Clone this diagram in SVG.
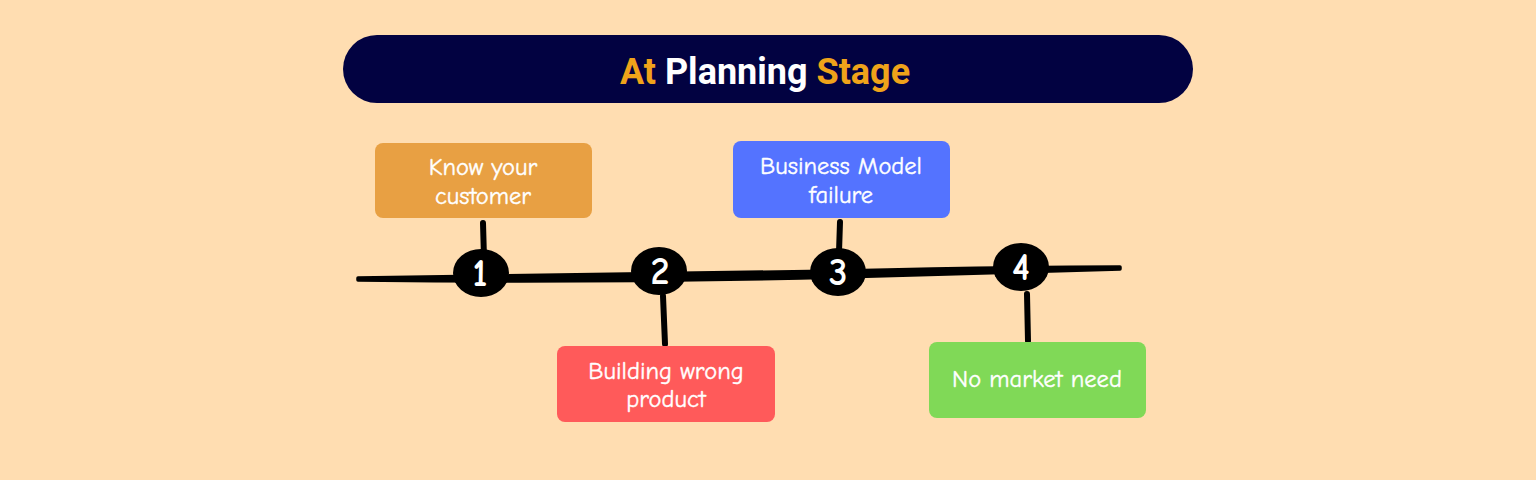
<svg xmlns="http://www.w3.org/2000/svg" width="1536" height="480" viewBox="0 0 1536 480">
<style>
.lbl{font-family:"Comic Sans MS","Comic Neue","Noto Sans",sans-serif;font-size:24.5px;font-weight:400;fill:#ffffff;stroke:#ffffff;stroke-width:0.4;text-anchor:middle}
.num{font-family:"Comic Sans MS","Comic Neue","Noto Sans",sans-serif;font-size:38px;font-weight:700;fill:#ffffff;text-anchor:middle}
.stem{stroke:#000;stroke-width:6;stroke-linecap:round;fill:none}
.title{font-family:Roboto,"Liberation Sans",sans-serif;font-size:36px;font-weight:700;text-anchor:middle}
</style>
<rect width="1536" height="480" fill="#FFDDB1"/>
<g id="title">
<rect x="343" y="35" width="850" height="68" rx="34" fill="#020241"/>
<text class="title" x="765" y="84"><tspan fill="#EFA31A">At</tspan><tspan fill="#ffffff"> Planning</tspan><tspan fill="#EFA31A"> Stage</tspan></text>
</g>
<g id="connectors">
<path d="M358 278 Q600 275 840 271 Q1000 267 1120 267 L1120 269 Q1000 272 840 277 Q600 283 358 280 Z" fill="#000" stroke="#000" stroke-width="3.5" stroke-linejoin="round"/>
<line class="stem" x1="483" y1="223" x2="484" y2="258"/>
<line class="stem" x1="663" y1="296" x2="665" y2="344"/>
<line class="stem" x1="840" y1="222" x2="839" y2="252"/>
<line class="stem" x1="1027" y1="294" x2="1028" y2="341"/>
</g>
<g id="step1">
<ellipse cx="481" cy="273" rx="28" ry="24" fill="#000"/>
<text class="num" x="480" y="286">1</text>
</g>
<g id="step2">
<ellipse cx="659" cy="271" rx="28" ry="24" fill="#000"/>
<text class="num" x="660" y="284">2</text>
</g>
<g id="step3">
<ellipse cx="838" cy="272" rx="28" ry="24" fill="#000"/>
<text class="num" x="838" y="285">3</text>
</g>
<g id="step4">
<ellipse cx="1021" cy="267" rx="28" ry="24" fill="#000"/>
<text class="num" x="1021" y="280">4</text>
</g>
<g id="box1">
<rect x="375" y="143" width="217" height="75" rx="8" fill="#E8A043"/>
<text class="lbl" x="483" y="175">Know your</text>
<text class="lbl" x="483" y="204">customer</text>
</g>
<g id="box2">
<rect x="557" y="346" width="218" height="76" rx="8" fill="#FF5A5A"/>
<text class="lbl" x="666" y="379">Building wrong</text>
<text class="lbl" x="666" y="407">product</text>
</g>
<g id="box3">
<rect x="733" y="141" width="217" height="77" rx="8" fill="#5473FF"/>
<text class="lbl" x="841" y="174">Business Model</text>
<text class="lbl" x="841" y="203">failure</text>
</g>
<g id="box4">
<rect x="929" y="342" width="217" height="76" rx="8" fill="#80D957"/>
<text class="lbl" x="1037" y="387">No market need</text>
</g>
</svg>
